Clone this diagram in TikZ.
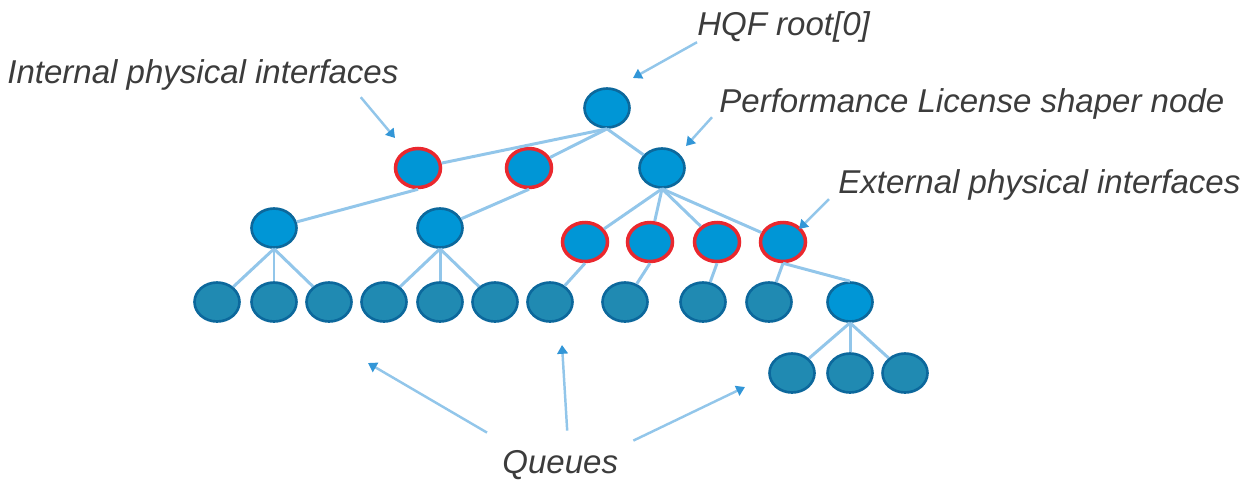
\documentclass[tikz,border=0pt]{standalone}
\usepackage{fontspec}
\setmainfont{Liberation Sans}
\usetikzlibrary{positioning,calc,arrows.meta,shapes.geometric}
\definecolor{lnkblue}{RGB}{146,198,234}
\definecolor{tipblue}{RGB}{50,150,215}
\definecolor{nodeblue}{RGB}{0,150,214}
\definecolor{rimblue}{RGB}{12,104,156}
\definecolor{qblue}{RGB}{32,138,178}
\definecolor{ifred}{RGB}{234,40,46}
\definecolor{txtgray}{RGB}{60,60,60}
\tikzset{nd/.style={ellipse, minimum width=0.9cm, minimum height=0.78cm, inner sep=0, fill=nodeblue, draw=rimblue, line width=1.5pt}}
\tikzset{ifnd/.style={nd, draw=ifred, line width=2pt}}
\tikzset{qnd/.style={nd, fill=qblue}}
\tikzset{lnk/.style={draw=lnkblue, line width=1.7pt}}
\tikzset{lbl/.style={font=\fontsize{18.8}{22}\selectfont\itshape, text=txtgray, inner sep=0, anchor=base west}}
\tikzset{ann/.style={draw=lnkblue, line width=1.4pt, -{Triangle[length=5pt,width=6pt,color=tipblue]}}}

\begin{document}
\begin{tikzpicture}[x=0.02cm, y=-0.02cm]
	\useasboundingbox (0,0) rectangle (1253,481);
	% tree
	\node[nd] (root) at (607,108) {};
	\node[ifnd] (i1) at (418,168) {};
	\node[ifnd] (i2) at (529,168) {};
	\node[nd] (pl) at (662,168) {};
	\node[nd] (a) at (274,228) {};
	\node[nd] (b) at (440,228) {};
	\foreach \n/\x in {1/585,2/650,3/717,4/783}
		\node[ifnd] (e\n) at (\x,242) {};
	\foreach \n/\x in {1/217,2/274,3/329,4/384,5/440,6/495,7/550,8/625,9/703,10/769}
		\node[qnd] (q\n) at (\x,302) {};
	\node[nd] (s) at (850,302) {};
	\foreach \n/\x in {1/792,2/850,3/905}
		\node[qnd] (r\n) at (\x,373) {};
	%
	\foreach \c in {i1,i2,pl}
		\draw[lnk] (root.south) -- (\c);
	\draw[lnk] (i1.south) -- (a);
	\draw[lnk] (i2.south) -- (b);
	\foreach \c in {e1,e2,e3,e4}
		\draw[lnk] (pl.south) -- (\c);
	\foreach \c in {q1,q2,q3}
		\draw[lnk] (a.south) -- (\c);
	\foreach \c in {q4,q5,q6}
		\draw[lnk] (b.south) -- (\c);
	\draw[lnk] (e1.south) -- (q7);
	\draw[lnk] (e2.south) -- (q8);
	\draw[lnk] (e3.south) -- (q9);
	\draw[lnk] (e4.south) -- (q10);
	\draw[lnk] (e4.south) -- (s.north);
	\foreach \c in {r1,r2,r3}
		\draw[lnk] (s.south) -- (\c);
	% labels
	\node[lbl] (hqf) at (697,35) {HQF root[0]};
	\node[lbl] (ipi) at (7,83) {Internal physical interfaces};
	\node[lbl] (pls) at (719,112) {Performance License shaper node};
	\node[lbl] (epi) at (838,193) {External physical interfaces};
	\node[lbl] (que) at (502,473) {Queues};
	%
	\coordinate (hqft) at (633,78);
	\coordinate (ipit) at (395,138);
	\coordinate (plst) at (686,146);
	\coordinate (epit) at (799,229);
	\coordinate (qt1) at (368,363);
	\coordinate (qt2) at (562,345);
	\coordinate (qt3) at (745,387);
	\draw[ann] (hqf.south west) -- (hqft);
	\draw[ann] ([shift={(-38,7)}]ipi.south east) -- (ipit);
	\draw[ann] ([shift={(-7,-2)}]pls.south west) -- (plst);
	\draw[ann] ([shift={(-9,-1)}]epi.south west) -- (epit);
	\draw[ann] ([shift={(-15,-17)}]que.north west) -- (qt1);
	\draw[ann] ([shift={(7,-19)}]que.north) -- (qt2);
	\draw[ann] ([shift={(15,-9)}]que.north east) -- (qt3);
\end{tikzpicture}
\end{document}
